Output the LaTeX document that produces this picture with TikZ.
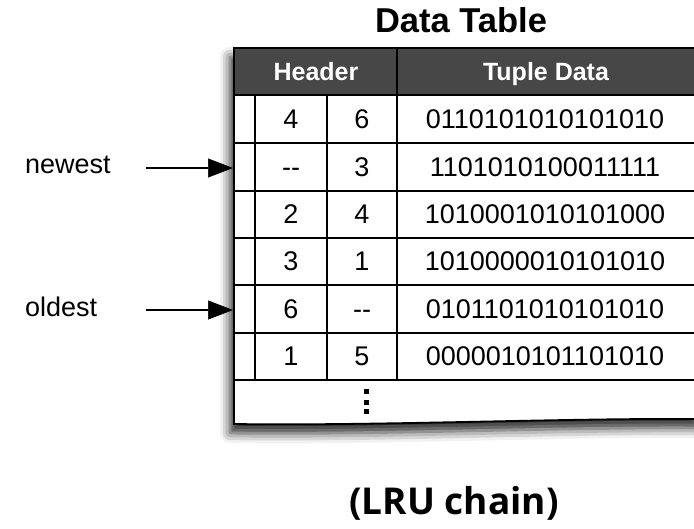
\documentclass[tikz,border=0pt]{standalone}
\usepackage{fontspec}
\setmainfont{Liberation Sans}
\newfontfamily\captionfont{Open Sans}
\usetikzlibrary{shadows.blur,arrows.meta}
\definecolor{headgray}{HTML}{474747}

\begin{document}
\begin{tikzpicture}[x=1pt,y=1pt,
  rule/.style={line width=1.8pt,black},
  cell/.style={anchor=base,inner sep=0pt,font=\fontsize{27}{30}\selectfont},
  headtext/.style={anchor=base,inner sep=0pt,text=white,font=\bfseries\fontsize{25}{30}\selectfont},
  pointer/.style={line width=2pt,draw=black,-{Triangle[length=25pt,width=19pt,fill=black,line width=0.5pt]}},
  sidelabel/.style={anchor=base west,inner sep=0pt,font=\fontsize{27}{30}\selectfont}]
\useasboundingbox (0,0) rectangle (694,528);

% sheet with soft shadow and torn-off bottom edge
\fill[white, blur shadow={shadow xshift=-4pt,shadow yshift=-9pt,shadow blur radius=10pt,shadow opacity=85}]
  (234,480) -- (702,480) -- (702,109) .. controls (560,110) and (380,102) .. (234,104) -- cycle;

% header band
\fill[headgray] (234,480) rectangle (702,433);

% outer rules
\draw[rule] (702,480) -- (234,480) -- (234,104) .. controls (380,102) and (560,110) .. (702,109);
\draw[rule] (234,433) -- (702,433);
\foreach \yy in {385,337,290,243,195,148}
  \draw[rule] (234,\yy) -- (702,\yy);
\draw[rule] (255,433) -- (255,148);
\draw[rule] (327,433) -- (327,148);
\draw[rule] (397,480) -- (397,148);

% header labels
\node[headtext] (hHeader) at (316,447.5) {Header};
\node[headtext] (hTuple) at (546,447.5) {Tuple Data};

% rows
\foreach \yc/\a/\b/\bits [count=\i] in {
    409/4/6/0110101010101010,
    361/{-}{-}/3/1101010100011111,
    313.5/2/4/1010001010101000,
    266.5/3/1/1010000010101010,
    219/6/{-}{-}/0101101010101010,
    171.5/1/5/0000010101101010} {
  \node[cell] (a\i) at (291,\yc-9.5) {\a};
  \node[cell] (b\i) at (362,\yc-9.5) {\b};
  \node[cell] (d\i) at (545,\yc-9.5) {\bits};
}

% continuation marks
\foreach \yy in {136,125.5,116}
  \fill (363.5,\yy-2.5) rectangle ++(5,5);

% titles
\node[anchor=base,inner sep=0pt,font=\bfseries\fontsize{34.5}{40}\selectfont] (title) at (461,495) {Data Table};
\node[anchor=base,inner sep=0pt,font=\captionfont\bfseries\fontsize{37}{42}\selectfont] (caption) at (454,13) {(LRU chain)};

% pointers
\node[sidelabel] (newest) at (25,354) {newest};
\node[sidelabel] (oldest) at (25,211) {oldest};
\coordinate (newTail) at (146,360);
\coordinate (newHead) at (233,360);
\coordinate (oldTail) at (146,218);
\coordinate (oldHead) at (233,218);
\draw[pointer] (newTail) -- (newHead);
\draw[pointer] (oldTail) -- (oldHead);
\end{tikzpicture}
\end{document}
